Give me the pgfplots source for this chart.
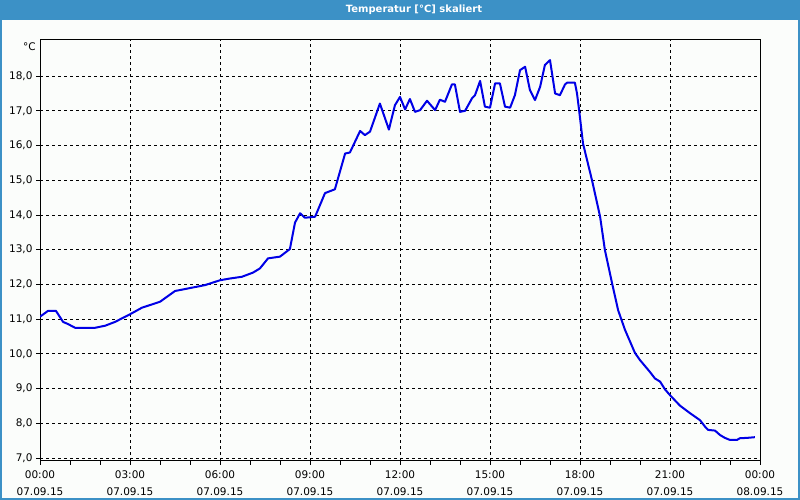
\documentclass[border=0pt]{standalone}
\usepackage{pgfplots}
\pgfplotsset{compat=1.18}
\usepackage{fontspec}
\setmainfont{DejaVu Sans}
\definecolor{barblue}{RGB}{60,145,198}
\definecolor{bgwhite}{RGB}{251,253,251}
\definecolor{lineblue}{RGB}{0,0,230}
\begin{document}
\begin{tikzpicture}
\fill[bgwhite] (0pt,0pt) rectangle (800pt,500pt);
\useasboundingbox (0pt,0pt) rectangle (800pt,500pt);
\fill[barblue] (0pt,479.5pt) rectangle (800pt,500pt);
\draw[barblue,line width=2pt] (1pt,1pt) rectangle (799pt,499pt);
\node[text=white,font=\fontsize{10}{12}\selectfont\bfseries] at (414pt,490pt) {Temperatur [°C] skaliert};
\begin{axis}[
  at={(40pt,39pt)}, anchor=south west,
  scale only axis, width=720pt, height=421pt,
  xmin=0, xmax=24, ymin=6.914, ymax=19.04,
  xtick={0,3,...,24},
  xticklabels={00:00\\07.09.15,03:00\\07.09.15,06:00\\07.09.15,09:00\\07.09.15,12:00\\07.09.15,15:00\\07.09.15,18:00\\07.09.15,21:00\\07.09.15,00:00\\08.09.15},
  xticklabel style={align=center, font=\fontsize{10.5}{16.5}\selectfont, yshift=-2.5pt},
  minor x tick num=2,
  ytick={7,8,...,18},
  yticklabels={{7,0},{8,0},{9,0},{10,0},{11,0},{12,0},{13,0},{14,0},{15,0},{16,0},{17,0},{18,0}},
  yticklabel style={font=\fontsize{10.5}{12}\selectfont},
  xtick pos=bottom, ytick pos=left,
  tick align=outside,
  major tick length=4pt, minor tick length=4pt,
  tick style={black, line width=0.8pt},
  xmajorgrids, ymajorgrids,
  major grid style={black, line width=0.8pt, dash pattern=on 3pt off 3pt},
  axis line style={black, line width=1pt},
  axis background/.style={fill=bgwhite},
  clip=true,
]
\addplot[lineblue, line width=2pt, line join=round] coordinates {
(0.00,11.07) (0.27,11.24) (0.53,11.24) (0.77,10.92) (0.93,10.86) (1.17,10.75)
(1.83,10.75) (2.17,10.81) (2.50,10.92) (3.00,11.14) (3.40,11.33) (4.00,11.50)
(4.50,11.81) (5.50,11.98) (6.00,12.12) (6.33,12.17) (6.73,12.22) (7.10,12.34)
(7.33,12.46) (7.60,12.75) (8.00,12.80) (8.33,13.02) (8.50,13.78) (8.67,14.05)
(8.83,13.92) (9.17,13.95) (9.50,14.63) (9.83,14.74) (10.17,15.77) (10.33,15.80)
(10.67,16.42) (10.83,16.30) (11.00,16.40) (11.33,17.21) (11.63,16.46) (11.83,17.16)
(12.00,17.40) (12.17,17.04) (12.33,17.34) (12.50,16.97) (12.67,17.02) (12.90,17.29)
(13.17,17.02) (13.33,17.32) (13.50,17.26) (13.73,17.76) (13.83,17.76) (14.00,16.97)
(14.17,17.00) (14.40,17.36) (14.50,17.45) (14.67,17.86) (14.83,17.12) (15.00,17.09)
(15.17,17.79) (15.33,17.79) (15.50,17.12) (15.67,17.09) (15.83,17.45) (16.00,18.17)
(16.17,18.27) (16.33,17.60) (16.50,17.31) (16.67,17.69) (16.83,18.32) (17.00,18.46)
(17.17,17.50) (17.33,17.45) (17.50,17.76) (17.57,17.81) (17.83,17.81) (17.90,17.50)
(17.97,17.02) (18.10,16.06) (18.40,15.00) (18.67,13.95) (18.83,12.99) (19.07,12.03)
(19.27,11.26) (19.50,10.69) (19.83,10.03) (20.00,9.82) (20.33,9.48) (20.50,9.29)
(20.67,9.20) (20.83,8.98) (21.00,8.81) (21.33,8.51) (21.67,8.29) (22.00,8.09)
(22.17,7.90) (22.27,7.81) (22.50,7.79) (22.67,7.66) (22.83,7.58) (23.00,7.52)
(23.23,7.52) (23.33,7.57) (23.57,7.58) (23.83,7.60)
};
\end{axis}
\node[anchor=north east, inner sep=0pt, font=\fontsize{10.5}{12}\selectfont] at (36pt,457pt) {°C};
\end{tikzpicture}
\end{document}
